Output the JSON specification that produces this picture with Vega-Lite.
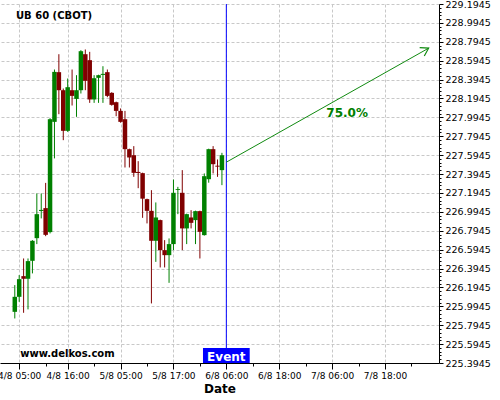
{
  "$schema": "https://vega.github.io/schema/vega-lite/v6.json",
  "width": 439,
  "height": 359,
  "autosize": {"type": "none"},
  "padding": {"left": 0, "top": 4, "right": 61, "bottom": 37},
  "background": "white",
  "config": {
    "font": "DejaVu Sans",
    "view": {"stroke": null}
  },
  "datasets": {
    "candles": [
      {"i": -1, "o": 225.936, "h": 226.219, "l": 225.866, "c": 226.095},
      {"i": 0, "o": 226.095, "h": 226.325, "l": 226.042, "c": 226.282},
      {"i": 1, "o": 226.314, "h": 226.501, "l": 225.926, "c": 226.286},
      {"i": 2, "o": 226.286, "h": 226.501, "l": 225.962, "c": 226.473},
      {"i": 3, "o": 226.476, "h": 226.695, "l": 226.343, "c": 226.688},
      {"i": 4, "o": 226.716, "h": 227.189, "l": 226.653, "c": 226.970},
      {"i": 5, "o": 227.004, "h": 227.189, "l": 226.925, "c": 227.015},
      {"i": 6, "o": 227.034, "h": 227.301, "l": 226.737, "c": 226.751},
      {"i": 7, "o": 226.780, "h": 227.986, "l": 226.766, "c": 227.975},
      {"i": 8, "o": 227.947, "h": 228.501, "l": 227.560, "c": 228.476},
      {"i": 9, "o": 228.473, "h": 228.663, "l": 228.028, "c": 228.282},
      {"i": 10, "o": 228.282, "h": 228.300, "l": 227.753, "c": 227.852},
      {"i": 11, "o": 227.852, "h": 228.406, "l": 227.841, "c": 228.314},
      {"i": 12, "o": 228.282, "h": 228.501, "l": 228.120, "c": 228.222},
      {"i": 13, "o": 228.190, "h": 228.441, "l": 228.000, "c": 228.282},
      {"i": 14, "o": 228.282, "h": 228.706, "l": 228.247, "c": 228.695},
      {"i": 15, "o": 228.663, "h": 228.713, "l": 228.282, "c": 228.381},
      {"i": 16, "o": 228.600, "h": 228.688, "l": 228.148, "c": 228.184},
      {"i": 17, "o": 228.184, "h": 228.441, "l": 228.148, "c": 228.409},
      {"i": 18, "o": 228.413, "h": 228.446, "l": 228.148, "c": 228.441},
      {"i": 19, "o": 228.444, "h": 228.536, "l": 228.148, "c": 228.455},
      {"i": 20, "o": 228.473, "h": 228.501, "l": 228.208, "c": 228.222},
      {"i": 21, "o": 228.254, "h": 228.261, "l": 228.118, "c": 228.127},
      {"i": 22, "o": 228.155, "h": 228.161, "l": 228.007, "c": 228.063},
      {"i": 23, "o": 228.063, "h": 228.089, "l": 227.938, "c": 227.947},
      {"i": 24, "o": 227.975, "h": 228.063, "l": 227.464, "c": 227.658},
      {"i": 25, "o": 227.658, "h": 227.663, "l": 227.464, "c": 227.570},
      {"i": 26, "o": 227.594, "h": 227.690, "l": 227.365, "c": 227.407},
      {"i": 27, "o": 227.417, "h": 227.531, "l": 227.245, "c": 227.406},
      {"i": 28, "o": 227.404, "h": 227.409, "l": 226.931, "c": 227.134},
      {"i": 29, "o": 227.129, "h": 227.134, "l": 226.872, "c": 227.005},
      {"i": 30, "o": 227.005, "h": 227.224, "l": 226.025, "c": 226.688},
      {"i": 31, "o": 226.688, "h": 227.094, "l": 226.465, "c": 226.935},
      {"i": 32, "o": 226.907, "h": 226.912, "l": 226.406, "c": 226.589},
      {"i": 33, "o": 226.589, "h": 226.695, "l": 226.406, "c": 226.536},
      {"i": 34, "o": 226.536, "h": 226.713, "l": 226.243, "c": 226.653},
      {"i": 35, "o": 226.653, "h": 227.337, "l": 226.589, "c": 227.196},
      {"i": 36, "o": 227.226, "h": 227.259, "l": 226.970, "c": 227.235},
      {"i": 37, "o": 227.196, "h": 227.436, "l": 226.589, "c": 226.819},
      {"i": 38, "o": 226.819, "h": 226.975, "l": 226.653, "c": 226.970},
      {"i": 39, "o": 226.935, "h": 227.012, "l": 226.819, "c": 226.878},
      {"i": 40, "o": 226.907, "h": 227.007, "l": 226.653, "c": 227.002},
      {"i": 41, "o": 227.002, "h": 227.007, "l": 226.501, "c": 226.783},
      {"i": 42, "o": 226.748, "h": 227.401, "l": 226.743, "c": 227.372},
      {"i": 43, "o": 227.340, "h": 227.663, "l": 227.303, "c": 227.658},
      {"i": 44, "o": 227.658, "h": 227.690, "l": 227.401, "c": 227.499},
      {"i": 45, "o": 227.483, "h": 227.549, "l": 227.365, "c": 227.473},
      {"i": 46, "o": 227.436, "h": 227.619, "l": 227.277, "c": 227.594}
    ]
  },
  "layer": [
    {
      "data": {"name": "candles"},
      "mark": {"type": "rule", "strokeWidth": 1},
      "encoding": {
        "x": {
          "field": "i",
          "type": "quantitative",
          "scale": {"domain": [-3.222, 94.117], "nice": false, "zero": false},
          "axis": {
            "orient": "bottom",
            "values": [0, 6, 11, 17, 23, 29, 35, 41, 47, 53, 59, 65, 71, 77, 83, 89],
            "tickCount": 500,
            "labelExpr": "datum.value==0?'4/8 05:00':datum.value==11?'4/8 16:00':datum.value==23?'5/8 05:00':datum.value==35?'5/8 17:00':datum.value==47?'6/8 06:00':datum.value==59?'6/8 18:00':datum.value==71?'7/8 06:00':datum.value==83?'7/8 18:00':''",
            "title": "Date",
            "labelFlush": false,
            "labelOverlap": false,
            "labelBound": false,
            "grid": true,
            "gridColor": "#c8c8c8",
            "gridDash": [3, 2],
            "gridOpacity": {"condition": {"test": "indexof([0,11,23,35,47,59,71,83], datum.value) >= 0", "value": 1}, "value": 0},
            "tickSize": {"condition": {"test": "indexof([0,11,23,35,47,59,71,83], datum.value) >= 0", "value": 6}, "value": 3},
            "domainColor": "black",
            "tickColor": "black",
            "labelColor": "black",
            "labelFontSize": 9,
            "labelPadding": 2,
            "titleFontSize": 12,
            "titleFontWeight": "bold",
            "titleColor": "black",
            "titlePadding": 3
          }
        },
        "y": {
          "field": "l",
          "type": "quantitative",
          "scale": {"domain": [225.3945, 229.1945], "nice": false, "zero": false},
          "axis": {
            "orient": "right",
            "values": [225.3945, 225.4345, 225.4745, 225.5145, 225.5545, 225.5945, 225.6345, 225.6745, 225.7145, 225.7545, 225.7945, 225.8345, 225.8745, 225.9145, 225.9545, 225.9945, 226.0345, 226.0745, 226.1145, 226.1545, 226.1945, 226.2345, 226.2745, 226.3145, 226.3545, 226.3945, 226.4345, 226.4745, 226.5145, 226.5545, 226.5945, 226.6345, 226.6745, 226.7145, 226.7545, 226.7945, 226.8345, 226.8745, 226.9145, 226.9545, 226.9945, 227.0345, 227.0745, 227.1145, 227.1545, 227.1945, 227.2345, 227.2745, 227.3145, 227.3545, 227.3945, 227.4345, 227.4745, 227.5145, 227.5545, 227.5945, 227.6345, 227.6745, 227.7145, 227.7545, 227.7945, 227.8345, 227.8745, 227.9145, 227.9545, 227.9945, 228.0345, 228.0745, 228.1145, 228.1545, 228.1945, 228.2345, 228.2745, 228.3145, 228.3545, 228.3945, 228.4345, 228.4745, 228.5145, 228.5545, 228.5945, 228.6345, 228.6745, 228.7145, 228.7545, 228.7945, 228.8345, 228.8745, 228.9145, 228.9545, 228.9945, 229.0345, 229.0745, 229.1145, 229.1545, 229.1945],
            "tickCount": 500,
            "labelExpr": "abs((datum.value-225.3945)/0.2 - round((datum.value-225.3945)/0.2)) < 0.01 ? format(datum.value, '.4f') : ''",
            "title": null,
            "labelFlush": false,
            "labelOverlap": false,
            "labelBound": false,
            "grid": true,
            "gridColor": "#c8c8c8",
            "gridDash": [3, 2],
            "gridOpacity": {"condition": {"test": "abs((datum.value-225.3945)/0.2 - round((datum.value-225.3945)/0.2)) < 0.01", "value": 1}, "value": 0},
            "tickSize": {"condition": {"test": "abs((datum.value-225.3945)/0.2 - round((datum.value-225.3945)/0.2)) < 0.01", "value": 4}, "value": 2},
            "domainColor": "black",
            "tickColor": "black",
            "labelColor": "black",
            "labelFontSize": 9.5,
            "labelPadding": 2
          }
        },
        "y2": {"field": "h"},
        "color": {"condition": {"test": "datum.c >= datum.o", "value": "#008000"}, "value": "#800000"}
      }
    },
    {
      "data": {"name": "candles"},
      "mark": {"type": "bar", "size": 4.5},
      "encoding": {
        "x": {"field": "i", "type": "quantitative"},
        "y": {"field": "o", "type": "quantitative"},
        "y2": {"field": "c"},
        "color": {"condition": {"test": "datum.c >= datum.o", "value": "#008000"}, "value": "#800000"}
      }
    },
    {
      "data": {"values": [{}]},
      "mark": {"type": "rule", "color": "#0000ff", "strokeWidth": 1},
      "encoding": {
        "x": {"datum": 47, "type": "quantitative"}
      }
    },
    {
      "data": {"values": [{}]},
      "mark": {"type": "rule", "color": "#108a10", "strokeWidth": 1},
      "encoding": {
        "x": {"datum": 47, "type": "quantitative"},
        "y": {"datum": 227.52, "type": "quantitative"},
        "x2": {"datum": 92.9},
        "y2": {"datum": 228.727}
      }
    },
    {
      "data": {"values": [{}]},
      "mark": {"type": "point", "shape": "M-1,-0.63L0,0L-1,0.63", "filled": false, "stroke": "#108a10", "strokeWidth": 1.2, "size": 231, "angle": 331.16, "opacity": 1},
      "encoding": {
        "x": {"datum": 92.9, "type": "quantitative"},
        "y": {"datum": 228.727, "type": "quantitative"}
      }
    },
    {
      "data": {"values": [{}]},
      "mark": {"type": "text", "text": "75.0%", "font": "DejaVu Sans", "fontSize": 12, "fontWeight": "bold", "color": "#008000", "align": "center", "baseline": "middle"},
      "encoding": {
        "x": {"datum": 74.4, "type": "quantitative"},
        "y": {"datum": 228.039, "type": "quantitative"}
      }
    },
    {
      "data": {"values": [{}]},
      "mark": {"type": "text", "text": "UB 60 (CBOT)", "font": "DejaVu Sans", "fontSize": 10, "fontWeight": "bold", "color": "black", "align": "left", "baseline": "alphabetic"},
      "encoding": {
        "x": {"datum": -0.73, "type": "quantitative"},
        "y": {"datum": 229.034, "type": "quantitative"}
      }
    },
    {
      "data": {"values": [{}]},
      "mark": {"type": "text", "text": "www.delkos.com", "font": "DejaVu Sans", "fontSize": 10, "fontWeight": "bold", "color": "black", "align": "left", "baseline": "alphabetic"},
      "encoding": {
        "x": {"datum": 0.22, "type": "quantitative"},
        "y": {"datum": 225.457, "type": "quantitative"}
      }
    },
    {
      "data": {"values": [{}]},
      "mark": {"type": "rect", "color": "#0000ff"},
      "encoding": {
        "x": {"datum": 41.7, "type": "quantitative"},
        "x2": {"datum": 52.3},
        "y": {"datum": 225.3945, "type": "quantitative"},
        "y2": {"datum": 225.552}
      }
    },
    {
      "data": {"values": [{}]},
      "mark": {"type": "text", "text": "Event", "font": "DejaVu Sans", "fontSize": 12, "fontWeight": "bold", "color": "white", "align": "center", "baseline": "alphabetic"},
      "encoding": {
        "x": {"datum": 47, "type": "quantitative"},
        "y": {"datum": 225.418, "type": "quantitative"}
      }
    }
  ]
}
